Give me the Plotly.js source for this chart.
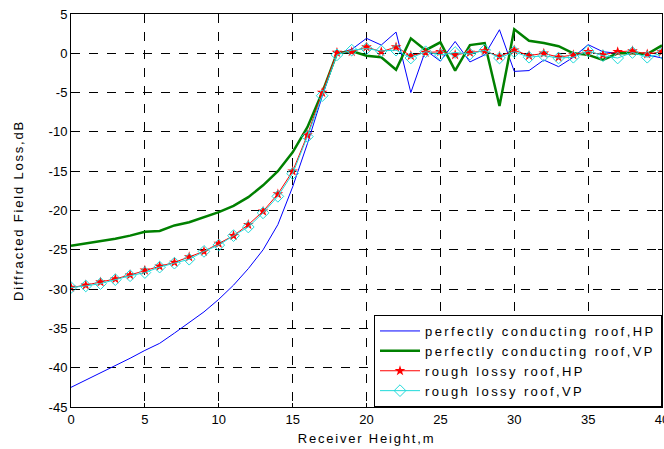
<!DOCTYPE html>
<html>
<head>
<meta charset="utf-8">
<script src="https://cdn.plot.ly/plotly-3.0.1.min.js"></script>
<style>
html,body{margin:0;padding:0;background:#fff;}
#chart{width:664px;height:449px;}
svg text.legendtext { letter-spacing: 2.4px !important; }
svg text.xtitle, svg text.ytitle { letter-spacing: 1.8px !important; }
</style>
</head>
<body>
<div id="chart"></div>
<script>
const height = [0,1,2,3,4,5,6,7,8,9,10,11,12,13,14,15,16,17,18,19,20,21,22,23,24,25,26,27,28,29,30,31,32,33,34,35,36,37,38,39,40];

const conductingHP = [-42.5,-41.6,-40.7,-39.8,-38.8,-37.8,-36.9,-35.6,-34.2,-32.9,-31.3,-29.5,-27.4,-25.0,-21.8,-17.0,-11.5,-5.5,0.0,
  0.5,1.9,1.05,2.7,-5.0,0.4,-1.0,1.5,-1.1,-0.2,3.0,-2.3,-2.2,-0.85,-1.7,-0.5,1.1,0.2,0.0,0.0,-0.2,-0.6];

const conductingVP = [-24.5,-24.2,-23.9,-23.6,-23.2,-22.7,-22.6,-21.9,-21.5,-20.9,-20.2,-19.4,-18.3,-16.8,-15.0,-12.6,-9.4,-5.0,0.0,
  0.3,-0.3,-0.5,-2.1,1.9,0.4,1.4,-2.2,1.05,1.3,-6.7,3.05,1.6,1.3,0.9,0.0,-0.2,-0.85,0.0,0.0,-0.1,1.0];

const roughHP = [-29.8,-29.5,-29.1,-28.7,-28.2,-27.6,-27.1,-26.6,-25.9,-25.2,-24.2,-23.2,-21.8,-20.1,-17.9,-15.0,-10.4,-5.0,0.1,
  0.2,0.8,0.2,0.8,-0.3,0.1,0.2,-0.2,0.1,0.3,-0.4,0.4,-0.3,0.0,-0.5,-0.2,0.2,-0.2,0.2,0.3,-0.1,0.2];

const roughVP = [-29.8,-29.6,-29.3,-28.8,-28.3,-27.9,-27.2,-26.7,-26.2,-25.2,-24.4,-23.2,-22.1,-20.3,-18.2,-15.3,-10.6,-5.4,-0.2,
  0.4,0.6,0.3,0.4,-0.6,0.2,-0.2,0.1,-0.1,0.4,-0.6,0.2,-0.5,-0.3,-0.6,-0.5,0.3,-0.3,-0.6,0.1,-0.5,0.0];

const seriesNames = ['perfectly conducting roof,HP','perfectly conducting roof,VP','rough lossy roof,HP','rough lossy roof,VP'];
const xTicks = [0,5,10,15,20,25,30,35,40];
const yTicks = [-45,-40,-35,-30,-25,-20,-15,-10,-5,0,5];

const font = {family: 'Liberation Sans, Arial, sans-serif', size: 13, color: '#000'};

const traces = [
  {x: height, y: conductingHP, name: seriesNames[0], mode: 'lines', line: {color: '#0000ff', width: 1}},
  {x: height, y: conductingVP, name: seriesNames[1], mode: 'lines', line: {color: '#008000', width: 2.5}},
  {x: height, y: roughHP, name: seriesNames[2], mode: 'lines+markers', line: {color: '#ff0000', width: 1},
   marker: {symbol: 'star', size: 8, color: '#ff0000'}},
  {x: height, y: roughVP, name: seriesNames[3], mode: 'lines+markers', line: {color: '#20dada', width: 1},
   marker: {symbol: 'diamond-open', size: 9, color: '#20dada', line: {width: 1}}}
];

const axisCommon = {
  showline: true, linecolor: '#000', linewidth: 1, mirror: 'ticks',
  ticks: 'inside', ticklen: 4, tickcolor: '#000',
  showgrid: true, gridcolor: '#000', gridwidth: 1, griddash: 'dash',
  zeroline: false, tickfont: font, ticklabeloverflow: 'allow'
};

const layout = {
  width: 664, height: 449,
  margin: {l: 71, r: 2, t: 14, b: 42},
  paper_bgcolor: '#fff', plot_bgcolor: '#fff',
  font: font,
  showlegend: true,
  legend: {x: 1, y: 0, xanchor: 'right', yanchor: 'bottom', bgcolor: '#fff', bordercolor: '#000', borderwidth: 1,
           font: font, tracegroupgap: 0, itemwidth: 40},
  xaxis: Object.assign({}, axisCommon, {range: [0, 40], tickvals: xTicks, ticktext: xTicks.map(String),
          title: {text: 'Receiver Height,m', font: font, standoff: 8}}),
  yaxis: Object.assign({}, axisCommon, {range: [-45, 5], tickvals: yTicks, ticktext: yTicks.map(String),
          title: {text: 'Diffracted Field Loss,dB', font: font, standoff: 22}})
};

Plotly.newPlot('chart', traces, layout, {displayModeBar: false, staticPlot: true});
</script>
</body>
</html>
